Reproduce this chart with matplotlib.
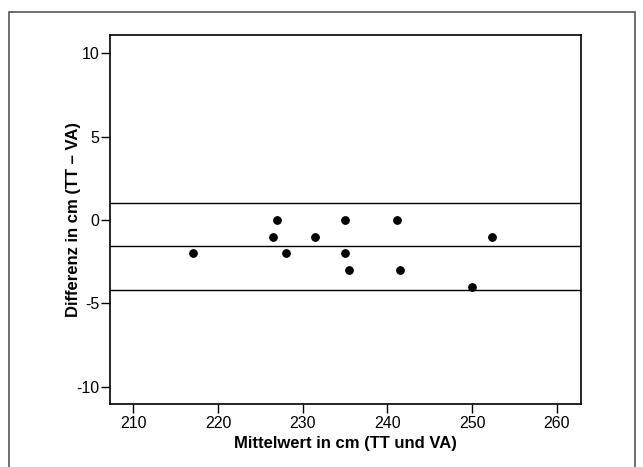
import matplotlib
matplotlib.use("Agg")
import matplotlib.pyplot as plt
from matplotlib.patches import Rectangle

plt.rcParams['font.family'] = ['Liberation Sans', 'DejaVu Sans']
plt.rcParams['axes.unicode_minus'] = False

mean_vals = [217.0, 226.5, 227.0, 228.0, 231.45, 235.05, 234.95, 235.5, 241.1, 241.5, 250.0, 252.4]
diff_vals = [-2, -1, 0, -2, -1, 0, -2, -3, 0, -3, -4, -1]
ref_lines = [1.0, -1.58, -4.2]
x_ticks = [210, 220, 230, 240, 250, 260]
y_ticks = [-10, -5, 0, 5, 10]

fig = plt.figure(figsize=(6.43, 4.67), dpi=100)
ax = fig.add_axes([0.171, 0.1349, 0.7326, 0.7901])

fig.patches.append(Rectangle((0.014, -0.02), 0.9736, 0.994, transform=fig.transFigure,
                             fill=False, edgecolor='#555555', linewidth=1.2))

ax.scatter(mean_vals, diff_vals, s=28, color='black', zorder=3)
for v in ref_lines:
    ax.axhline(v, color='black', linewidth=1.0)

ax.set_xlim(207.25, 262.85)
ax.set_ylim(-11.05, 11.1)
ax.set_xticks(x_ticks)
ax.set_yticks(y_ticks)
ax.tick_params(direction='out', length=6.5, width=1, labelsize=11.5, colors='black')
ax.tick_params(axis='x', pad=2)
ax.tick_params(axis='y', pad=1)
for s in ax.spines.values():
    s.set_linewidth(1.2)
ax.set_xlabel('Mittelwert in cm (TT und VA)', fontsize=12, fontweight='bold', labelpad=4)
ax.set_ylabel('Differenz in cm (TT – VA)', fontsize=12, fontweight='bold', labelpad=-3)

fig.savefig('out.png', dpi=100)
